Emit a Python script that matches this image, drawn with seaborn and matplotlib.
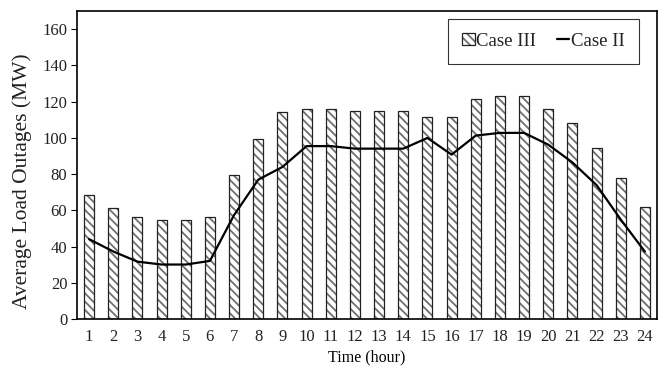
import numpy as np
import pandas as pd
import matplotlib
matplotlib.use("Agg")
import matplotlib.pyplot as plt
import matplotlib.colors as mcolors
import seaborn as sns

hours = list(range(1, 25))
case3 = [68.3, 61.3, 56.3, 54.7, 54.7, 56.3, 79.5, 99.5, 114.5, 116.2, 116.2, 114.7,
         114.7, 114.7, 111.4, 111.4, 121.3, 123.0, 123.0, 116.2, 108.1, 94.6, 78.1, 61.9]
case2 = [44.2, 37.4, 31.8, 30.2, 30.2, 32.2, 57.5, 77.0, 84.0, 95.5, 95.5, 94.1,
         94.1, 94.1, 100.0, 90.8, 101.3, 102.8, 102.8, 96.3, 86.5, 74.0, 55.0, 37.3]
yticks = [0, 20, 40, 60, 80, 100, 120, 140, 160]

sns.set_theme(style="white")
plt.rcParams['font.family'] = ['Liberation Serif', 'DejaVu Serif']
plt.rcParams['hatch.linewidth'] = 1.3

df = pd.DataFrame({"hour": hours, "case3": case3, "case2": case2})

fig = plt.figure(figsize=(6.64, 3.68), dpi=100)
ax = fig.add_axes([77 / 664, 1 - 319.3 / 368, 580 / 664, 308.3 / 368])

sns.barplot(data=df, x="hour", y="case3", color="white", width=0.42,
            edgecolor="#222222", linewidth=0.9, saturation=1, ax=ax, label="Case III")
for p in ax.patches:
    p.set_hatch("\\\\\\\\")
    p._hatch_color = mcolors.to_rgba("#707070")
sns.lineplot(x=np.arange(len(hours)), y=df["case2"], color="black", linewidth=1.6,
             ax=ax, label="Case II")

ax.set_xlim(-0.5, len(hours) - 0.5)
ax.set_ylim(0, 170)
ax.set_yticks(yticks)
ax.set_xticks(range(len(hours)))
ax.set_xticklabels([str(h) for h in hours])
ax.tick_params(axis="x", length=0, pad=7, labelsize=12, colors="#222222")
ax.tick_params(axis="y", length=4, width=0.8, direction="out", left=True, pad=3,
               labelsize=12, colors="#222222")
ax.tick_params(axis="y", color="black")
for s in ax.spines.values():
    s.set_visible(True)
    s.set_color("black")
    s.set_linewidth(1.2)

ax.set_xlabel("Time (hour)", fontsize=11.5, labelpad=3, color="black")
ax.set_ylabel("Average Load Outages (MW)", fontsize=15.5, color="#222222")
ax.yaxis.set_label_coords((32 - 77) / 580, (319.3 - 181) / 308.3)

handles, labels = ax.get_legend_handles_labels()
order = [labels.index("Case III"), labels.index("Case II")]
leg = ax.legend([handles[i] for i in order], [labels[i] for i in order],
                loc="upper right", bbox_to_anchor=((639 - 77) / 580, (319.3 - 18.5) / 308.3),
                borderaxespad=0, ncol=2, fontsize=13.5, frameon=True, fancybox=False,
                handlelength=0.65, handleheight=0.65, handletextpad=0.1, columnspacing=1.1,
                borderpad=0.75)
leg.get_frame().set_edgecolor("black")
leg.get_frame().set_linewidth(0.8)
for t in leg.get_texts():
    t.set_color("#222222")

fig.savefig("out.png", dpi=100)
